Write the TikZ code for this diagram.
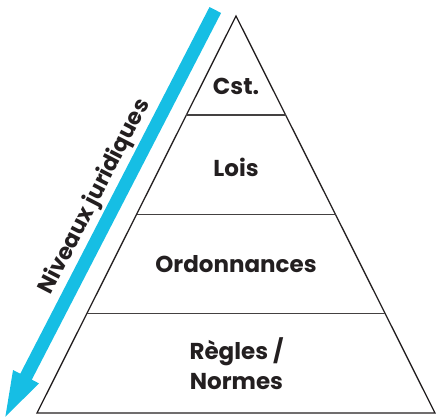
\documentclass[tikz,border=0pt]{standalone}
\usepackage{fontspec}
\setmainfont{Poppins}
\usetikzlibrary{calc}
\definecolor{ink}{RGB}{35,31,32}
\definecolor{cyanarrow}{RGB}{22,190,228}
\begin{document}
\begin{tikzpicture}[x=1pt,y=1pt,
  side/.style={draw=ink,line width=1.3pt,line join=miter},
  divider/.style={draw=ink!85,line width=1.5pt},
  lvl/.style={font=\fontsize{23}{30}\selectfont\bfseries,text=ink,align=center,inner sep=0pt}]
\useasboundingbox (0,0) rectangle (436,417);
% pyramid
\coordinate (A) at (236,401);
\coordinate (BL) at (37,4);
\coordinate (BR) at (435,4);
\draw[side] (A) -- (BL) -- (BR) -- cycle;
\foreach \t/\n in {0.25/a,0.5/b,0.75/c}{
  \coordinate (L\n) at ($(A)!\t!(BL)$);
  \coordinate (R\n) at ($(A)!\t!(BR)$);
  \draw[divider] (L\n) -- (R\n);
}
% labels
\node[lvl] (cst) at (236,331) {Cst.};
\node[lvl] (lois) at (236,249.5) {Lois};
\node[lvl] (ord) at (236,153) {Ordonnances};
\node[lvl] (reg) at (236.5,53) {Règles /\\Normes};
% arrow
\begin{scope}[shift={(215.3,407)},rotate=-117.3]
  \fill[cyanarrow] (0,-6.5) -- (412.7,-6.5) -- (412.7,-14.6) -- (457.7,0)
     -- (412.7,14.6) -- (412.7,6.5) -- (0,6.5) -- cycle;
\end{scope}
\node[font=\fontsize{22.4}{26}\selectfont\bfseries,text=ink,rotate=62.7,inner sep=0pt] (niv) at (95,220) {Niveaux juridiques};
\end{tikzpicture}
\end{document}
